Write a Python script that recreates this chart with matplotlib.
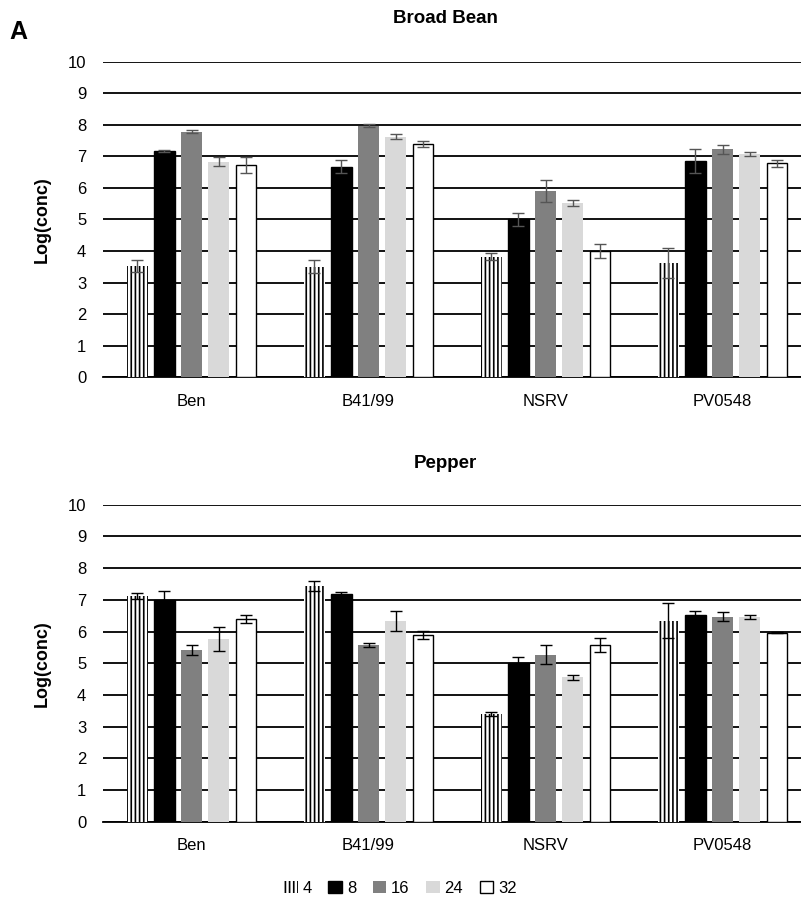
import matplotlib.pyplot as plt
import numpy as np

plt.rcParams['font.family'] = ['Liberation Sans', 'DejaVu Sans']
plt.rcParams['hatch.linewidth'] = 1.2

# datos
cepas = ['Ben', 'B41/99', 'NSRV', 'PV0548']
dias = ['4', '8', '16', '24', '32']

# Broad Bean: filas = dias, columnas = cepas
haba = np.array([
    [3.53, 3.50, 3.82, 3.63],
    [7.18, 6.68, 5.00, 6.86],
    [7.79, 7.98, 5.91, 7.23],
    [6.84, 7.63, 5.53, 7.07],
    [6.73, 7.39, 4.00, 6.78],
])
haba_err = np.array([
    [0.20, 0.20, 0.12, 0.48],
    [0.03, 0.20, 0.22, 0.38],
    [0.04, 0.05, 0.35, 0.15],
    [0.14, 0.08, 0.10, 0.07],
    [0.25, 0.10, 0.22, 0.12],
])

# Pepper
pimiento = np.array([
    [7.12, 7.44, 3.39, 6.34],
    [7.00, 7.18, 5.02, 6.52],
    [5.42, 5.57, 5.26, 6.47],
    [5.75, 6.34, 4.55, 6.47],
    [6.39, 5.89, 5.57, 5.96],
])
pimiento_err = np.array([
    [0.10, 0.15, 0.07, 0.55],
    [0.28, 0.08, 0.17, 0.14],
    [0.15, 0.07, 0.30, 0.14],
    [0.38, 0.32, 0.07, 0.06],
    [0.12, 0.13, 0.22, 0.02],
])

caras = ['white', 'black', '#808080', '#d9d9d9', 'white']
bordes = ['black', 'black', 'none', 'none', 'black']
grosor = [0, 1.0, 0, 0, 1.0]
tramas = ['||||', None, None, None, None]

fig = plt.figure(figsize=(8.01, 9.10), dpi=100)
ax1 = fig.add_axes([0.1286, 0.5857, 0.884, 0.3462])
ax2 = fig.add_axes([0.1286, 0.0970, 0.884, 0.3484])

def graficar(ax, valores, errores, color_err):
    x = np.arange(len(cepas))
    paso = 0.153
    ancho = 0.115
    barras = []
    for i in range(len(dias)):
        pos = x + (i - 2) * paso
        b = ax.bar(pos, valores[i], ancho, color=caras[i], edgecolor=bordes[i],
                   hatch=tramas[i], linewidth=grosor[i], zorder=3, label=dias[i])
        ax.errorbar(pos, valores[i], yerr=errores[i], fmt='none',
                    ecolor=color_err, elinewidth=1.0, capsize=4, capthick=1.0, zorder=4)
        barras.append(b)
    ax.set_xlim(-0.5, 3.5)
    ax.set_ylim(0, 10)
    ax.set_yticks(range(0, 11))
    ax.yaxis.grid(True, color='black', linewidth=1.3, zorder=0)
    ax.set_axisbelow(True)
    for s in ['top', 'right', 'left']:
        ax.spines[s].set_visible(False)
    ax.spines['bottom'].set_linewidth(1.3)
    ax.set_xticks(x)
    ax.set_xticklabels(cepas, fontsize=12)
    ax.tick_params(axis='both', length=0, labelsize=12)
    ax.tick_params(axis='y', pad=12)
    ax.tick_params(axis='x', pad=12)
    ax.set_ylabel('Log(conc)', fontsize=13, fontweight='bold', labelpad=12)
    return barras

graficar(ax1, haba, haba_err, '#555555')
barras = graficar(ax2, pimiento, pimiento_err, 'black')

fig.text(0.5556, 0.980, 'Broad Bean', fontsize=13.5, fontweight='bold', ha='center', va='center')
fig.text(0.5556, 0.491, 'Pepper', fontsize=13.5, fontweight='bold', ha='center', va='center')
fig.text(0.012, 0.965, 'A', fontsize=18, fontweight='bold', va='center')

fig.legend(handles=barras, labels=dias, loc='center', bbox_to_anchor=(0.5, 0.024),
           ncol=5, frameon=False, fontsize=12, handlelength=0.8, handleheight=0.8,
           handletextpad=0.3, columnspacing=1.0)

plt.savefig('out.png', dpi=100)
